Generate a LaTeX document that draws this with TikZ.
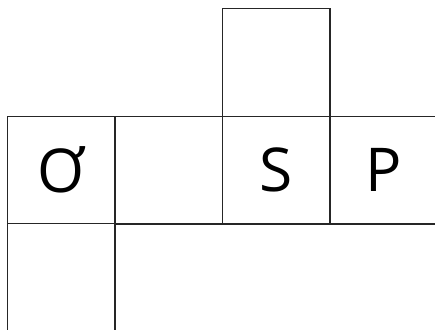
\documentclass[tikz,border=0pt]{standalone}
\usepackage{fontspec}
\newfontfamily\letterfont{Open Sans}
\usetikzlibrary{positioning}

\begin{document}
\begin{tikzpicture}[
  cell/.style={draw=black!85, line width=0.6pt, minimum size=2cm, inner sep=0pt,
    font=\letterfont\fontsize{32}{38}\selectfont}]
\useasboundingbox (-0.14,-3.958) rectangle (7.954,2.164);
\clip (-0.14,-3.958) rectangle (7.954,2.164);
% middle row
\node[cell] (q) at (1,-1) {Ơ};
\node[cell] (mid) at (3,-1) {};
\node[cell] (s) at (5,-1) {S};
\node[cell] (p) at (7,-1) {P};
% above and below
\node[cell] (top) at (5,1) {};
\node[cell] (low) at (1,-3) {};
\node[cell, minimum width=6cm, anchor=north west] (rest) at (mid.south west) {};
\end{tikzpicture}
\end{document}
